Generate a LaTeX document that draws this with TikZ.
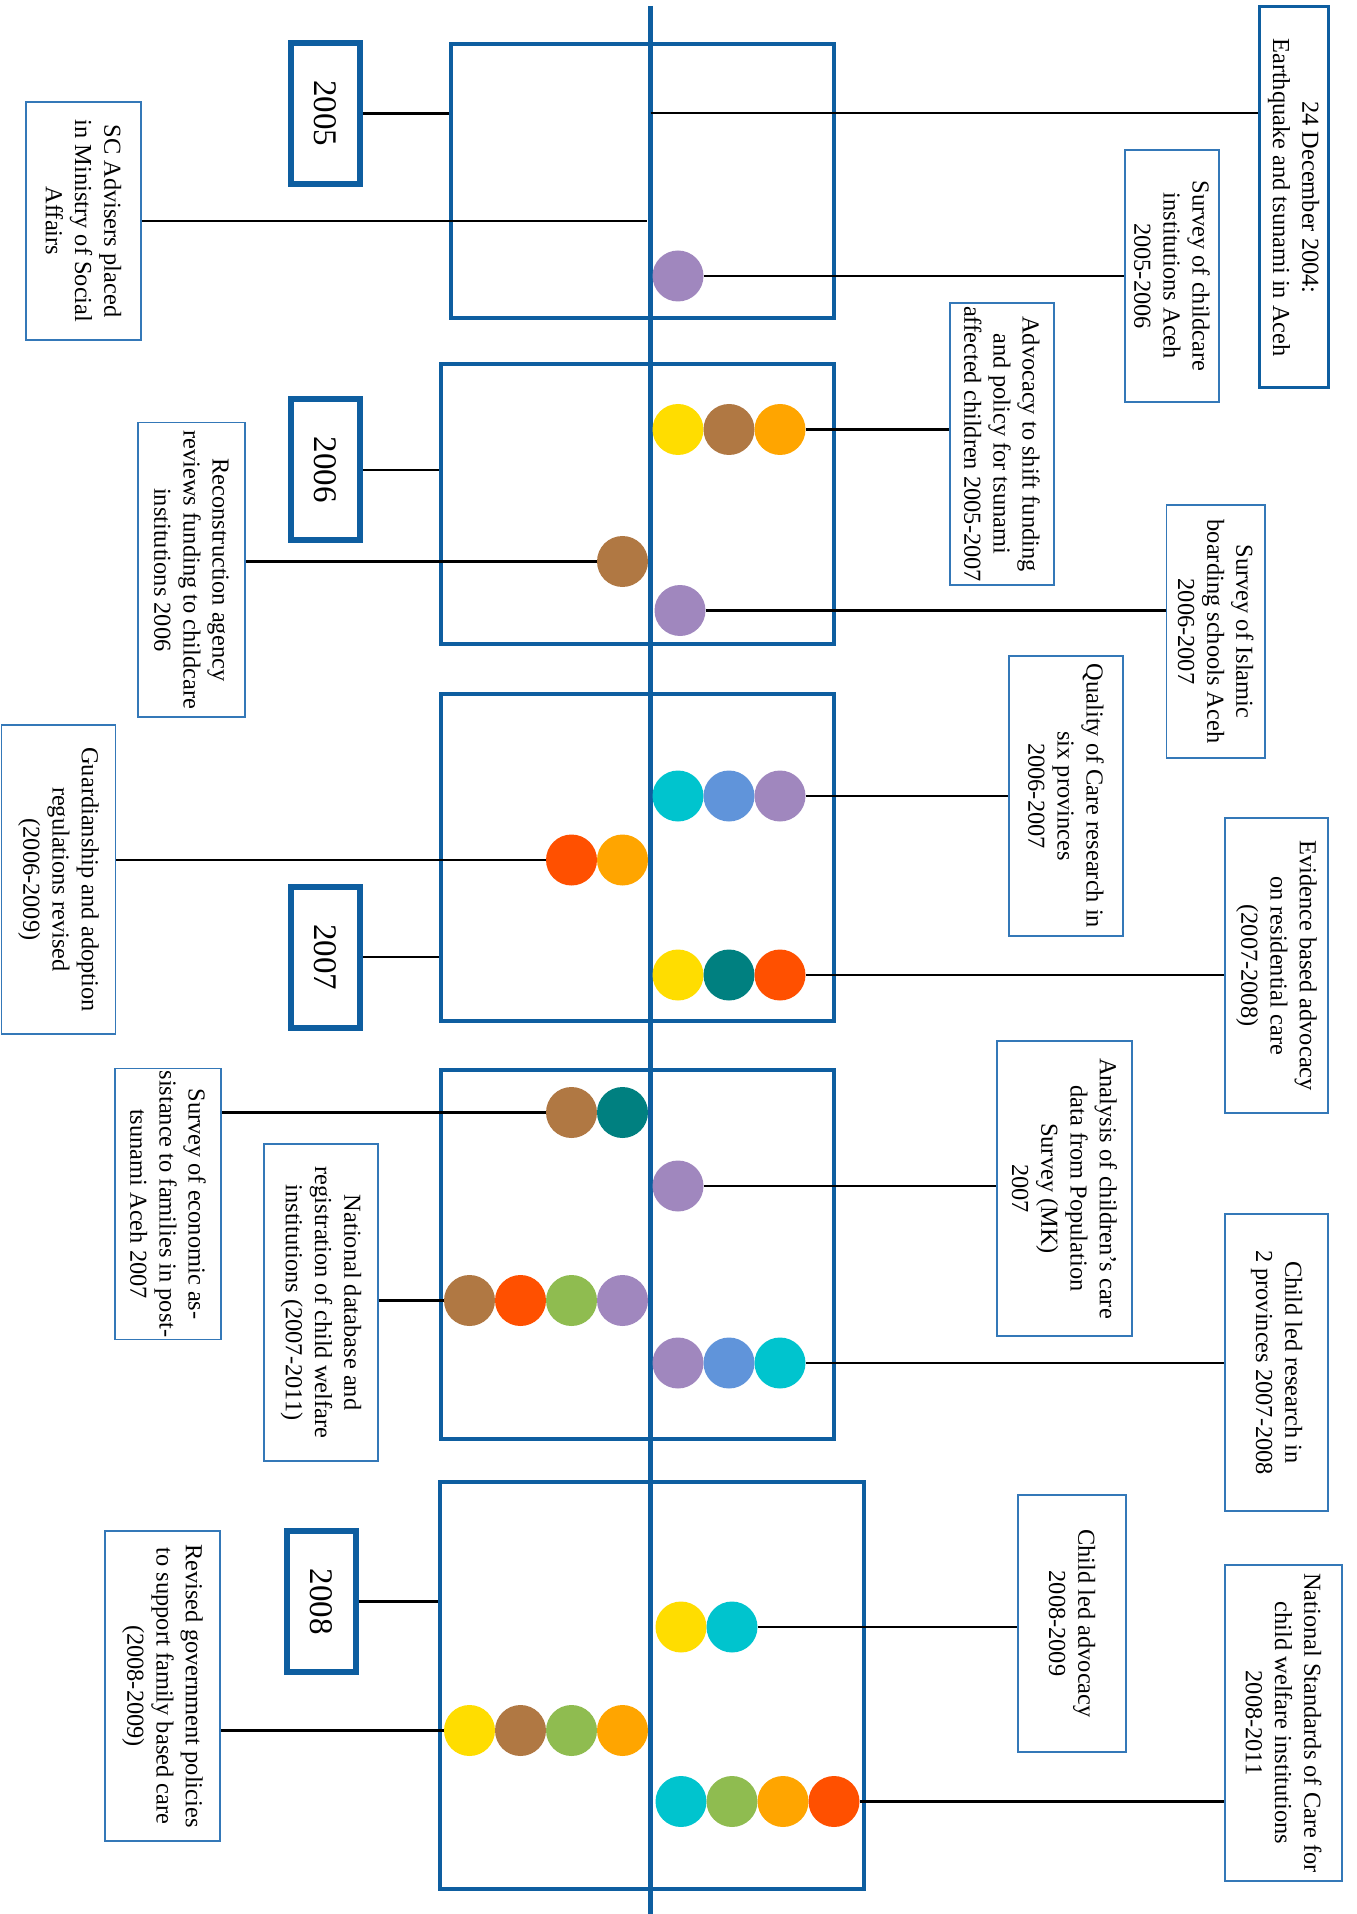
\documentclass[tikz,border=0pt]{standalone}
\usepackage{fontspec}
\setmainfont{Liberation Serif}
\usepackage{tikz}
\usetikzlibrary{positioning, calc}

\definecolor{lineblue}{RGB}{14,94,160}
\definecolor{boxblue}{RGB}{52,120,184}
\definecolor{dpurple}{RGB}{160,135,190}
\definecolor{dyellow}{RGB}{255,221,0}
\definecolor{dbrown}{RGB}{176,120,67}
\definecolor{dorange}{RGB}{255,165,0}
\definecolor{dcyan}{RGB}{0,196,206}
\definecolor{dblue}{RGB}{96,148,218}
\definecolor{dteal}{RGB}{0,128,128}
\definecolor{dred}{RGB}{255,80,0}
\definecolor{dgreen}{RGB}{143,188,80}

\begin{document}
\begin{tikzpicture}[x=0.5pt, y=-0.5pt,
    frame/.style={draw=lineblue, line width=1.6pt, inner sep=0pt},
    yearbox/.style={draw=lineblue, line width=3pt, rotate=-90, inner sep=0pt,
        minimum width=70.5pt, minimum height=34.5pt, font=\fontsize{16.5}{19}\selectfont},
    evbox/.style={draw=boxblue, line width=0.9pt, rotate=-90, align=center, inner sep=1pt,
        font=\fontsize{12.2}{14.6}\selectfont},
    dot/.style={circle, minimum size=25.5pt, inner sep=0pt, outer sep=0pt},
    link/.style={black, line width=1.2pt}]

    \useasboundingbox (0,0) rectangle (1356,1914);

    % --- Year Frames ---
    \node[frame, minimum width=191.5pt, minimum height=137pt] (f2005) at (642.5,181) {};
    \node[frame, minimum width=196.5pt, minimum height=140pt] (f2006) at (637.5,504) {};
    \node[frame, minimum width=196.5pt, minimum height=163.5pt] (f2007) at (637.5,857.5) {};
    \node[frame, minimum width=196.5pt, minimum height=184.5pt] (f2007b) at (637.5,1254.5) {};
    \node[frame, minimum width=212pt, minimum height=203.5pt] (f2008) at (652,1685.5) {};

    % --- Main Time Line ---
    \coordinate (top) at (650.5,6);
    \coordinate (bot) at (650.5,1914);
    \draw[lineblue, line width=2.6pt] (top) -- (bot);

    % --- Year Boxes ---
    \node[yearbox] (y2005) at (325.5,113.5) {2005};
    \node[yearbox] (y2006) at (325.5,470) {2006};
    \node[yearbox] (y2007) at (325.5,957) {2007};
    \node[yearbox] (y2008) at (321,1601.5) {2008};
    \draw[link] (y2005.north) -- (y2005.north -| f2005.west);
    \draw[link] (y2006.north) -- (y2006.north -| f2006.west);
    \draw[link] (y2007.north) -- (y2007.north -| f2007.west);
    \draw[link] (y2008.north) -- (y2008.north -| f2008.west);

    % --- Right Boxes ---
    \node[evbox, draw=lineblue, line width=1.5pt, minimum width=190.5pt, minimum height=34.5pt] (tsunami) at (1293.5,197.5)
        {24 December 2004:\\Earthquake and tsunami in Aceh};
    \node[evbox, minimum width=126pt, minimum height=47pt] (survcare) at (1172,276)
        {Survey of childcare\\institutions Aceh\\2005-2006};
    \node[evbox, minimum width=141pt, minimum height=51.75pt] (advshift) at (1002,444)
        {Advocacy to shift funding\\and policy for tsunami\\affected children 2005-2007};
    \node[evbox, minimum width=126.5pt, minimum height=49.25pt] (islamic) at (1215.75,631.5)
        {Survey of Islamic\\boarding schools Aceh\\2006-2007};
    \node[evbox, minimum width=140pt, minimum height=57pt] (quality) at (1066,796)
        {Quality of Care research in\\six provinces\\2006-2007};
    \node[evbox, minimum width=147.5pt, minimum height=51.5pt] (evidence) at (1276.5,965.5)
        {Evidence based advocacy\\on residential care\\(2007-2008)};
    \node[evbox, minimum width=147.5pt, minimum height=67.5pt] (analysis) at (1064.5,1188.5)
        {Analysis of children’s care\\data from Population\\Survey (MK)\\2007};
    \node[evbox, minimum width=148.5pt, minimum height=51.5pt] (childres) at (1276.5,1362.5)
        {Child led research in\\2 provinces 2007-2008};
    \node[evbox, minimum width=128.5pt, minimum height=53.75pt] (childadv) at (1072,1623.5)
        {Child led advocacy\\2008-2009};
    \node[evbox, minimum width=158pt, minimum height=58.5pt] (standards) at (1283.5,1723)
        {National Standards of Care for\\child welfare institutions\\2008-2011};

    % --- Left Boxes ---
    \node[evbox, minimum width=119pt, minimum height=57.5pt] (advisers) at (83.5,221)
        {SC Advisers placed\\in Ministry of Social\\Affairs};
    \node[evbox, minimum width=147.25pt, minimum height=53.5pt] (recon) at (191.5,569.75)
        {Reconstruction agency\\reviews funding to childcare\\institutions 2006};
    \node[evbox, minimum width=154.5pt, minimum height=57pt] (guard) at (58.5,879.5)
        {Guardianship and adoption\\regulations revised\\(2006-2009)};
    \node[evbox, minimum width=135pt, minimum height=53pt] (econ) at (168,1204)
        {Survey of economic as-\\sistance to families in post-\\tsunami Aceh 2007};
    \node[evbox, minimum width=158.5pt, minimum height=57pt] (database) at (321,1302.5)
        {National database and\\registration of child welfare\\institutions (2007-2011)};
    \node[evbox, minimum width=155pt, minimum height=57.5pt] (revised) at (162.5,1686)
        {Revised government policies\\to support family based care\\(2008-2009)};

    % --- 2005 ---
    \coordinate (q1) at (650.5,113);
    \draw[link] (q1) -- (q1 -| tsunami.south);
    \draw[link] (advisers.north) -- ($(advisers.north -| top)+(-4,0)$);
    \node[dot, fill=dpurple] (c1) at (678,276) {};
    \draw[link] (c1.east) -- (c1.east -| survcare.south);

    % --- 2006 ---
    \node[dot, fill=dyellow] (c2a) at (678,429.5) {};
    \node[dot, fill=dbrown] (c2b) at (729,429.5) {};
    \node[dot, fill=dorange] (c2c) at (780,429.5) {};
    \draw[link] (c2c.east) -- (c2c.east -| advshift.south);
    \node[dot, fill=dbrown] (c3) at (622.5,561.5) {};
    \draw[link] (c3.west) -- (c3.west -| recon.north);
    \node[dot, fill=dpurple] (c4) at (680,610.5) {};
    \draw[link] (c4.east) -- (c4.east -| islamic.south);

    % --- 2007 ---
    \node[dot, fill=dcyan] (c5a) at (678,796) {};
    \node[dot, fill=dblue] (c5b) at (729,796) {};
    \node[dot, fill=dpurple] (c5c) at (780,796) {};
    \draw[link] (c5c.east) -- (c5c.east -| quality.south);
    \node[dot, fill=dorange] (c6a) at (622.5,860) {};
    \node[dot, fill=dred] (c6b) at (571.5,860) {};
    \draw[link] (c6b.west) -- (c6b.west -| guard.north);
    \node[dot, fill=dyellow] (c7a) at (678,975) {};
    \node[dot, fill=dteal] (c7b) at (729,975) {};
    \node[dot, fill=dred] (c7c) at (780,975) {};
    \draw[link] (c7c.east) -- (c7c.east -| evidence.south);

    % --- 2007 (second frame) ---
    \node[dot, fill=dteal] (c8a) at (622.5,1112.5) {};
    \node[dot, fill=dbrown] (c8b) at (571.5,1112.5) {};
    \draw[link] (c8b.west) -- (c8b.west -| econ.north);
    \node[dot, fill=dpurple] (c9) at (678,1186) {};
    \draw[link] (c9.east) -- (c9.east -| analysis.south);
    \node[dot, fill=dpurple] (c10a) at (622.5,1300.5) {};
    \node[dot, fill=dgreen] (c10b) at (571.5,1300.5) {};
    \node[dot, fill=dred] (c10c) at (520.5,1300.5) {};
    \node[dot, fill=dbrown] (c10d) at (469.5,1300.5) {};
    \draw[link] (c10d.west) -- (c10d.west -| database.north);
    \node[dot, fill=dpurple] (c11a) at (678,1363) {};
    \node[dot, fill=dblue] (c11b) at (729,1363) {};
    \node[dot, fill=dcyan] (c11c) at (780,1363) {};
    \draw[link] (c11c.east) -- (c11c.east -| childres.south);

    % --- 2008 ---
    \node[dot, fill=dyellow] (c12a) at (681,1627) {};
    \node[dot, fill=dcyan] (c12b) at (732,1627) {};
    \draw[link] (c12b.east) -- (c12b.east -| childadv.south);
    \node[dot, fill=dorange] (c13a) at (622.5,1730.5) {};
    \node[dot, fill=dgreen] (c13b) at (571.5,1730.5) {};
    \node[dot, fill=dbrown] (c13c) at (520.5,1730.5) {};
    \node[dot, fill=dyellow] (c13d) at (469.5,1730.5) {};
    \draw[link] (c13d.west) -- (c13d.west -| revised.north);
    \node[dot, fill=dcyan] (c14a) at (681,1801.5) {};
    \node[dot, fill=dgreen] (c14b) at (732,1801.5) {};
    \node[dot, fill=dorange] (c14c) at (783,1801.5) {};
    \node[dot, fill=dred] (c14d) at (834,1801.5) {};
    \draw[link] (c14d.east) -- (c14d.east -| standards.south);

\end{tikzpicture}
\end{document}
